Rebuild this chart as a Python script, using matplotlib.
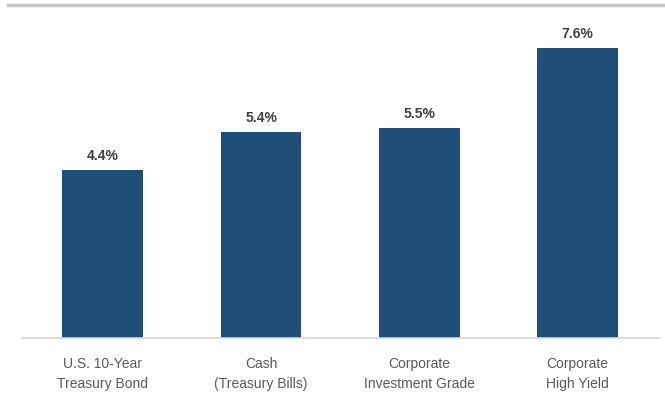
import matplotlib.pyplot as plt
from matplotlib.lines import Line2D

categories = ["U.S. 10-Year\nTreasury Bond", "Cash\n(Treasury Bills)",
              "Corporate\nInvestment Grade", "Corporate\nHigh Yield"]
yields = [4.4, 5.4, 5.5, 7.6]
labels = ["4.4%", "5.4%", "5.5%", "7.6%"]

plt.rcParams['font.family'] = ['Liberation Sans', 'DejaVu Sans']

fig = plt.figure(figsize=(6.65, 4.08), dpi=100)
ax = fig.add_axes([0.033, 0.1716, 0.9595, 0.78])

x = range(len(categories))
bars = ax.bar(x, yields, width=0.51, color='#1f4e79')
for b, lab in zip(bars, labels):
    ax.text(b.get_x() + b.get_width() / 2, b.get_height() + 0.2, lab,
            ha='center', va='bottom', fontsize=10, fontweight='bold', color='#404040')

ax.set_xlim(-0.51, 3.52)
ax.set_ylim(0, 8.35)
ax.set_xticks(list(x))
ax.set_xticklabels(categories, fontsize=10, color='#595959', linespacing=1.5)
ax.tick_params(axis='x', length=0, pad=14)
ax.set_yticks([])
for s in ['top', 'left', 'right']:
    ax.spines[s].set_visible(False)
ax.spines['bottom'].set_color('#d9d9d9')
ax.spines['bottom'].set_linewidth(1.2)

# gray rule at the top (title area cropped off)
fig.add_artist(Line2D([0.012, 1.0], [0.987, 0.987], color='#c8c8c8', linewidth=2.5,
                      transform=fig.transFigure))

fig.savefig("out.png", dpi=100)
plt.close(fig)
